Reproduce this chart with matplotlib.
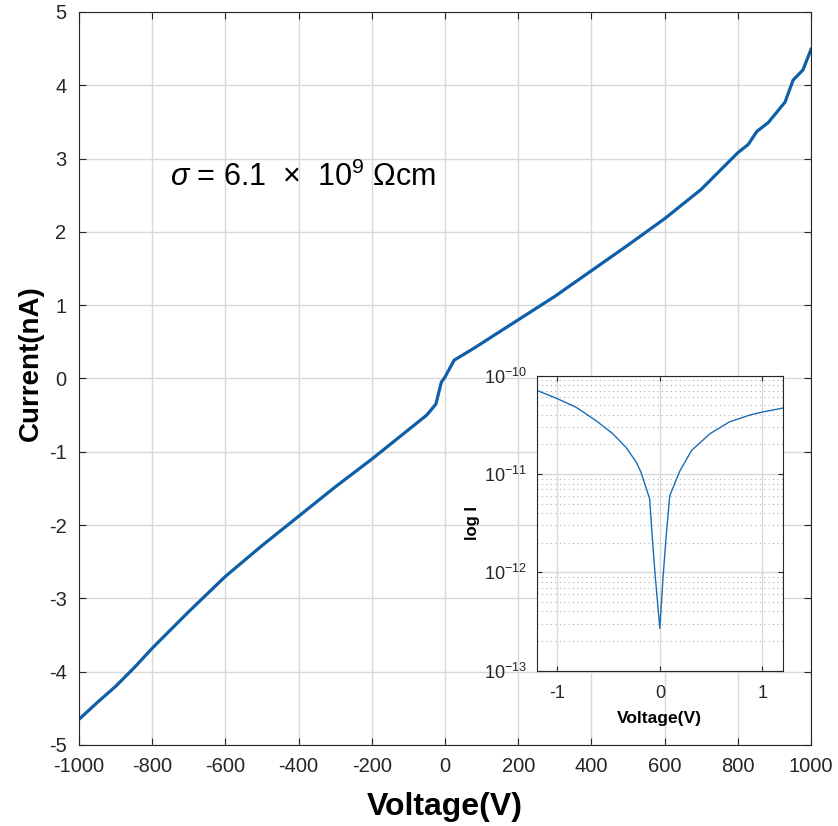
import matplotlib
matplotlib.use("Agg")
import matplotlib.pyplot as plt
import numpy as np

plt.rcParams['font.family'] = ['Liberation Sans', 'DejaVu Sans']
plt.rcParams['mathtext.fontset'] = 'custom'
plt.rcParams['mathtext.rm'] = 'Liberation Sans'
plt.rcParams['mathtext.it'] = 'Liberation Sans:italic'
plt.rcParams['mathtext.bf'] = 'Liberation Sans:bold'
plt.rcParams['axes.unicode_minus'] = False

# main I-V sweep (V, nA)
voltage = [-1000, -950, -900, -850, -800, -700, -600, -500, -400, -300, -200,
           -100, -50, -25, -10, 0, 25, 75, 100, 200, 300, 400, 500, 600, 700,
           800, 828, 852, 883, 929, 951, 978, 1000]
current = [-4.65, -4.42, -4.20, -3.95, -3.68, -3.18, -2.70, -2.28, -1.88, -1.48,
           -1.10, -0.70, -0.50, -0.35, -0.05, 0.02, 0.25, 0.40, 0.48, 0.80, 1.12,
           1.47, 1.82, 2.18, 2.58, 3.08, 3.19, 3.37, 3.49, 3.77, 4.07, 4.21, 4.49]

# inset: log10|I| (A) vs low voltage
v_small = [-1.2, -1.01, -0.82, -0.62, -0.46, -0.33, -0.23, -0.185, -0.10, -0.07,
           -0.045, 0.0, 0.032, 0.065, 0.097, 0.195, 0.31, 0.49, 0.68, 0.88,
           1.0, 1.2]
log_i = [-10.15, -10.23, -10.32, -10.46, -10.59, -10.73, -10.88, -10.98, -11.25,
         -11.70, -12.04, -12.57, -12.04, -11.59, -11.22, -10.97, -10.76, -10.59,
         -10.47, -10.40, -10.37, -10.33]

line_color = '#0f5fa8'
grid_color = '#d9d9d9'
text_color = '#262626'

fig = plt.figure(figsize=(8.38, 8.26), dpi=100)
ax = fig.add_axes([0.0943, 0.0981, 0.8735, 0.8874])
ax.plot(voltage, current, color=line_color, lw=2.3)
ax.set_xlim(-1000, 1000)
ax.set_ylim(-5, 5)
ax.set_xticks(np.arange(-1000, 1001, 200))
ax.set_yticks(np.arange(-5, 6, 1))
ax.grid(True, color=grid_color, lw=1.0)
ax.tick_params(direction='in', top=True, right=True, labelsize=14.5, length=5,
               colors=text_color, pad=9)
for s in ax.spines.values():
    s.set_color(text_color)
ax.set_xlabel('Voltage(V)', fontsize=23, fontweight='bold')
ax.set_ylabel('Current(nA)', fontsize=20, fontweight='bold')
ax.xaxis.set_label_coords(0.5, -0.064)
ax.yaxis.set_label_coords(-0.048, 0.521)
ax.text(-751, 2.63, r'$\mathit{\sigma}$ = 6.1  $\times$  10$^{9}$ $\Omega$cm',
        fontsize=22, color='black')

# inset
ins = fig.add_axes([0.6408, 0.188, 0.2932, 0.3572])
ins.set_facecolor('white')
ins.plot(v_small, 10 ** np.array(log_i), color='#1a6db5', lw=1.0)
ins.set_yscale('log')
ins.set_xlim(-1.2, 1.2)
ins.set_ylim(1e-13, 1e-10)
ins.set_xticks([-1, 0, 1])
ins.set_yticks([1e-13, 1e-12, 1e-11, 1e-10])
ins.set_yticklabels([r'10$^{-13}$', r'10$^{-12}$', r'10$^{-11}$', r'10$^{-10}$'])
ins.grid(True, which='major', color=grid_color, lw=1.0)
ins.grid(True, which='minor', axis='y', color='#b0b0b0', lw=0.8, ls=(0, (1, 3)))
ins.tick_params(which='both', direction='in', top=True, right=True,
                labelsize=13, colors=text_color, pad=7)
ins.tick_params(axis='x', pad=10)
ins.tick_params(which='minor', length=0)
for s in ins.spines.values():
    s.set_color(text_color)
ins.set_xlabel('Voltage(V)', fontsize=12.5, fontweight='bold', labelpad=7)
ins.set_ylabel('log I', fontsize=12, fontweight='bold', labelpad=3)

fig.savefig('out.png', dpi=100)
